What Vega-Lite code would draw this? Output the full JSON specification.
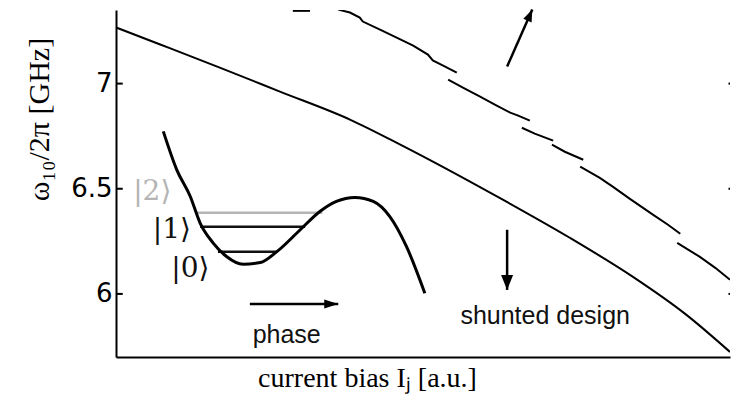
{
  "$schema": "https://vega.github.io/schema/vega-lite/v6.json",
  "width": 614,
  "height": 347,
  "autosize": "none",
  "padding": {"left": 116, "top": 10, "right": 1, "bottom": 47},
  "background": "white",
  "view": {"stroke": null},
  "datasets": {
    "lower": [
      {"x": 0.0, "y": 7.267}, {"x": 0.072, "y": 7.186}, {"x": 0.169, "y": 7.076},
      {"x": 0.267, "y": 6.962}, {"x": 0.381, "y": 6.829}, {"x": 0.463, "y": 6.71},
      {"x": 0.63, "y": 6.448}, {"x": 0.739, "y": 6.267}, {"x": 0.842, "y": 6.081},
      {"x": 0.927, "y": 5.905}, {"x": 1.0, "y": 5.724}
    ],
    "upper": [
      {"seg": "a", "x": 0.288, "y": 7.346}, {"seg": "a", "x": 0.316, "y": 7.346},
      {"seg": "b", "x": 0.362, "y": 7.352}, {"seg": "b", "x": 0.381, "y": 7.338},
      {"seg": "b", "x": 0.397, "y": 7.314}, {"seg": "b", "x": 0.402, "y": 7.295},
      {"seg": "b", "x": 0.43, "y": 7.257}, {"seg": "b", "x": 0.463, "y": 7.21},
      {"seg": "b", "x": 0.484, "y": 7.181}, {"seg": "b", "x": 0.508, "y": 7.138},
      {"seg": "b", "x": 0.516, "y": 7.11}, {"seg": "b", "x": 0.536, "y": 7.081},
      {"seg": "b", "x": 0.555, "y": 7.052},
      {"seg": "c", "x": 0.541, "y": 7.019}, {"seg": "c", "x": 0.565, "y": 6.981},
      {"seg": "c", "x": 0.593, "y": 6.938}, {"seg": "c", "x": 0.617, "y": 6.9},
      {"seg": "c", "x": 0.642, "y": 6.862}, {"seg": "c", "x": 0.655, "y": 6.848},
      {"seg": "c", "x": 0.674, "y": 6.824},
      {"seg": "d", "x": 0.661, "y": 6.79}, {"seg": "d", "x": 0.682, "y": 6.762},
      {"seg": "d", "x": 0.712, "y": 6.729},
      {"seg": "e", "x": 0.71, "y": 6.71}, {"seg": "e", "x": 0.731, "y": 6.676},
      {"seg": "e", "x": 0.761, "y": 6.638},
      {"seg": "f", "x": 0.756, "y": 6.605}, {"seg": "f", "x": 0.788, "y": 6.552},
      {"seg": "f", "x": 0.809, "y": 6.51}, {"seg": "f", "x": 0.837, "y": 6.452},
      {"seg": "f", "x": 0.875, "y": 6.376}, {"seg": "f", "x": 0.899, "y": 6.329},
      {"seg": "f", "x": 0.919, "y": 6.286},
      {"seg": "g", "x": 0.914, "y": 6.243}, {"seg": "g", "x": 0.951, "y": 6.176},
      {"seg": "g", "x": 0.976, "y": 6.124}, {"seg": "g", "x": 1.0, "y": 6.067}
    ],
    "well": [
      {"x": 0.077, "y": 6.773}, {"x": 0.099, "y": 6.59}, {"x": 0.121, "y": 6.463},
      {"x": 0.137, "y": 6.337}, {"x": 0.158, "y": 6.243}, {"x": 0.18, "y": 6.178},
      {"x": 0.207, "y": 6.141}, {"x": 0.235, "y": 6.149}, {"x": 0.262, "y": 6.201},
      {"x": 0.3, "y": 6.305}, {"x": 0.332, "y": 6.392}, {"x": 0.359, "y": 6.44},
      {"x": 0.389, "y": 6.459}, {"x": 0.419, "y": 6.44}, {"x": 0.446, "y": 6.368},
      {"x": 0.473, "y": 6.226}, {"x": 0.503, "y": 6.003}
    ],
    "levels": [
      {"state": "2", "x": 0.132, "x2": 0.336, "y": 6.386},
      {"state": "1", "x": 0.137, "x2": 0.308, "y": 6.319},
      {"state": "0", "x": 0.166, "x2": 0.262, "y": 6.2}
    ],
    "kets": [
      {"state": "2", "label": "|2⟩", "x": 0.059, "y": 6.486},
      {"state": "1", "label": "|1⟩", "x": 0.091, "y": 6.305},
      {"state": "0", "label": "|0⟩", "x": 0.121, "y": 6.119}
    ],
    "arrows": [
      {"arrow": "phase", "x": 0.218, "y": 5.952, "x2": 0.362, "y2": 5.952},
      {"arrow": "down", "x": 0.637, "y": 6.305, "x2": 0.637, "y2": 6.019},
      {"arrow": "up", "x": 0.637, "y": 7.081, "x2": 0.678, "y2": 7.352}
    ],
    "notes": [
      {"text": "phase", "x": 0.278, "y": 5.767},
      {"text": "shunted design", "x": 0.699, "y": 5.857}
    ],
    "yticks": [{"y": 6}, {"y": 6.5}, {"y": 7}]
  },
  "layer": [
    {
      "data": {"name": "lower"},
      "mark": {"type": "line", "color": "black", "strokeWidth": 2, "interpolate": "monotone", "clip": true},
      "encoding": {
        "x": {
          "field": "x", "type": "quantitative",
          "scale": {"domain": [0, 1], "nice": false, "zero": false},
          "axis": {
            "orient": "bottom", "ticks": false, "labels": false, "grid": false,
            "domainColor": "black", "domainWidth": 2,
            "title": "current bias Iⱼ [a.u.]",
            "titleFont": "Liberation Serif", "titleFontSize": 28, "titleFontWeight": "normal",
            "titleColor": "black", "titleX": 251, "titleY": 29,
            "titleAlign": "center", "titleBaseline": "alphabetic"
          }
        },
        "y": {
          "field": "y", "type": "quantitative",
          "scale": {"domain": [5.7, 7.35], "nice": false, "zero": false},
          "axis": {
            "orient": "left", "values": [6, 6.5, 7], "grid": false,
            "labelExpr": "datum.value",
            "domainColor": "black", "domainWidth": 2,
            "ticks": false,
            "labelFont": "DejaVu Sans", "labelFontSize": 26, "labelColor": "black",
            "labelPadding": 4,
            "title": "ω₁₀/2π [GHz]",
            "titleFont": "Liberation Serif", "titleFontSize": 30, "titleFontWeight": "normal",
            "titleColor": "black", "titleAngle": 270, "titleX": -68, "titleY": 109,
            "titleAlign": "center", "titleBaseline": "alphabetic"
          }
        }
      }
    },
    {
      "data": {"name": "yticks"},
      "mark": {"type": "rule", "color": "black", "strokeWidth": 2},
      "encoding": {
        "x": {"datum": 0, "type": "quantitative"},
        "x2": {"datum": 0.011},
        "y": {"field": "y", "type": "quantitative"}
      }
    },
    {
      "data": {"name": "yticks"},
      "mark": {"type": "rule", "color": "black", "strokeWidth": 2},
      "encoding": {
        "x": {"datum": 0.9975, "type": "quantitative"},
        "x2": {"datum": 1.0},
        "y": {"field": "y", "type": "quantitative"}
      }
    },
    {
      "data": {"name": "upper"},
      "mark": {"type": "line", "color": "black", "strokeWidth": 2, "clip": true},
      "encoding": {
        "x": {"field": "x", "type": "quantitative"},
        "y": {"field": "y", "type": "quantitative"},
        "detail": {"field": "seg"}
      }
    },
    {
      "data": {"name": "levels"},
      "mark": {"type": "rule", "strokeWidth": 2.5},
      "encoding": {
        "x": {"field": "x", "type": "quantitative"},
        "x2": {"field": "x2"},
        "y": {"field": "y", "type": "quantitative"},
        "color": {
          "field": "state", "type": "nominal", "legend": null,
          "scale": {"domain": ["0", "1", "2"], "range": ["#111111", "#111111", "#b4b4b4"]}
        }
      }
    },
    {
      "data": {"name": "well"},
      "mark": {"type": "line", "color": "black", "strokeWidth": 3, "interpolate": "monotone"},
      "encoding": {
        "x": {"field": "x", "type": "quantitative"},
        "y": {"field": "y", "type": "quantitative"}
      }
    },
    {
      "data": {"name": "kets"},
      "mark": {"type": "text", "font": "DejaVu Serif", "fontSize": 28, "align": "center", "baseline": "middle"},
      "encoding": {
        "x": {"field": "x", "type": "quantitative"},
        "y": {"field": "y", "type": "quantitative"},
        "text": {"field": "label"},
        "color": {
          "field": "state", "type": "nominal", "legend": null,
          "scale": {"domain": ["0", "1", "2"], "range": ["#222222", "#222222", "#8c8c8c"]}
        }
      }
    },
    {
      "data": {"name": "arrows"},
      "mark": {"type": "rule", "color": "black", "strokeWidth": 2.5},
      "encoding": {
        "x": {"field": "x", "type": "quantitative"},
        "y": {"field": "y", "type": "quantitative"},
        "x2": {"field": "x2"},
        "y2": {"field": "y2"}
      }
    },
    {
      "data": {"name": "arrows"},
      "transform": [{"filter": "datum.arrow === 'phase'"}],
      "mark": {"type": "point", "shape": "M0,0 L-2,-0.65 L-2,0.65 Z", "size": 196, "filled": true, "color": "black", "opacity": 1, "angle": 0},
      "encoding": {
        "x": {"field": "x2", "type": "quantitative"},
        "y": {"field": "y2", "type": "quantitative"}
      }
    },
    {
      "data": {"name": "arrows"},
      "transform": [{"filter": "datum.arrow === 'down'"}],
      "mark": {"type": "point", "shape": "M0,0 L-2,-0.8 L-2,0.8 Z", "size": 225, "filled": true, "color": "black", "opacity": 1, "angle": 90},
      "encoding": {
        "x": {"field": "x2", "type": "quantitative"},
        "y": {"field": "y2", "type": "quantitative"}
      }
    },
    {
      "data": {"name": "arrows"},
      "transform": [{"filter": "datum.arrow === 'up'"}],
      "mark": {"type": "point", "shape": "M0,0 L-2,-0.75 L-2,0.75 Z", "size": 144, "filled": true, "color": "black", "opacity": 1, "angle": -66.3},
      "encoding": {
        "x": {"field": "x2", "type": "quantitative"},
        "y": {"field": "y2", "type": "quantitative"}
      }
    },
    {
      "data": {"name": "notes"},
      "mark": {"type": "text", "font": "Liberation Sans", "fontSize": 25, "align": "center", "baseline": "alphabetic", "color": "#111111"},
      "encoding": {
        "x": {"field": "x", "type": "quantitative"},
        "y": {"field": "y", "type": "quantitative"},
        "text": {"field": "text"}
      }
    }
  ]
}
